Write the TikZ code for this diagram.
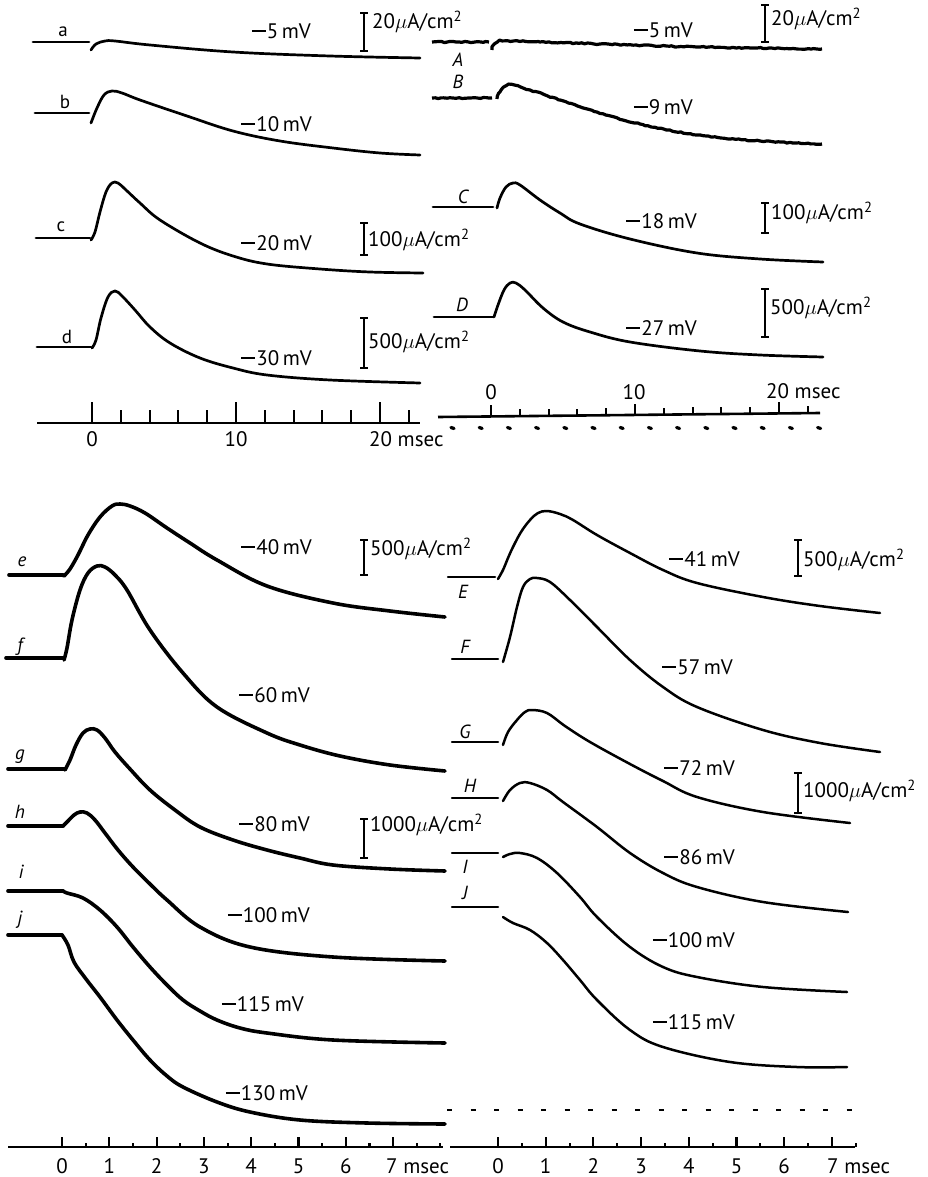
\documentclass[tikz,border=0pt]{standalone}
\usepackage{fontspec}
\setmainfont{PT Sans}
\usetikzlibrary{decorations.pathmorphing}
\newcommand{\calbar}[3]{\draw[bar] (#1,#2) -- (#1,#3) (#1-4,#2) -- (#1+4,#2) (#1-4,#3) -- (#1+4,#3);}
\newcommand{\uAcm}[1]{#1$\mu$A/cm\textsuperscript{2}}
\newcommand{\mn}{\rule[0.3em]{0.66em}{0.1em}\kern0.06em}

\begin{document}
\begin{tikzpicture}[x=1pt,y=-1pt,font=\fontsize{21}{24}\selectfont,
	trace/.style={line width=2.7pt,line cap=round,line join=round},
	bold/.style={line width=3.6pt,line cap=round,line join=round},
	thin/.style={line width=2.5pt,line cap=round,line join=round},
	noisy/.style={line width=3.2pt,line join=round,decorate,decoration={random steps,segment length=3pt,amplitude=.6pt}},
	bar/.style={line width=2.1pt},
	axis/.style={line width=2.6pt},
	lbl/.style={font=\fontsize{19}{20}\selectfont,inner sep=0pt},
	ilbl/.style={font=\fontsize{19}{20}\selectfont\itshape,inner sep=0pt},
	num/.style={inner sep=0pt},
	mv/.style={anchor=east,inner sep=0pt},
	ua/.style={anchor=west,inner sep=0pt}]
	\useasboundingbox (0,0) rectangle (927,1177);
	%	\draw[thin,densely dashed] (0,0) grid[step=100] (927,1177);
	
	% top left, a to d
	\draw[trace] (33,42) -- (89,42);
	\draw[trace] plot[smooth,tension=.6] coordinates {(91,50) (96,44) (105,41) (115,41) (150,45) (233,52) (330,56) (420,58)};
	\draw[trace] (35,113) -- (89,113);
	\draw[trace] plot[smooth,tension=.6] coordinates {(91,123) (97,108) (104,95) (112,91) (122,93) (140,100) (187,116) (233,131) (280,141) (333,148) (380,153) (420,155)};
	\draw[trace] (36,238) -- (90,238);
	\draw[trace] plot[smooth,tension=.6] coordinates {(91,240) (95,232) (100,212) (106,192) (112,183) (118,183) (126,190) (140,203) (160,220) (200,243) (233,256) (267,264) (320,269) (370,272) (423,273)};
	\draw[trace] (37,347) -- (91,347);
	\draw[trace] plot[smooth,tension=.6] coordinates {(92,348) (96,340) (101,318) (108,297) (115,291) (122,296) (135,310) (150,327) (170,343) (200,358) (233,368) (267,375) (330,380) (420,383)};
	\node[lbl] (la) at (63,32) {a};
	\node[lbl] (lb) at (65,102) {b};
	\node[lbl] (lc) at (61,227) {c};
	\node[lbl] (ld) at (67,337) {d};
	\node[mv] (va) at (311,31) {\mn5\,mV};
	\node[mv] (vb) at (312,124) {\mn10\,mV};
	\node[mv] (vc) at (312,243) {\mn20\,mV};
	\node[mv] (vd) at (312,358) {\mn30\,mV};
	\calbar{364}{13}{51}
	\calbar{364}{223}{255}
	\calbar{364}{318}{368}
	\node[ua] (ua) at (372,22) {\uAcm{20}};
	\node[ua] (uc) at (368,240) {\uAcm{100}};
	\node[ua] (ud) at (368,342) {\uAcm{500}};
	\draw[axis] (37,423) -- (420,423);
	\foreach \t in {0,2,...,22}
		\draw[bar] ({92+14.4*\t},423) -- ++(0,-13);
	\foreach \t in {0,10,20}
		\draw[bar] ({92+14.4*\t},423) -- ++(0,-21);
	\node[num] (t0) at (92,439) {0};
	\node[num] (t10) at (236,439) {10};
	\node[num,anchor=west] (t20) at (369,439) {20 msec};
	
	% top right, A to D
	\draw[noisy] (432,42) -- (489,42);
	\draw[noisy] plot[smooth,tension=.6] coordinates {(492,50) (495,44) (502,41) (540,42) (600,44) (700,47) (822,49)};
	\draw[noisy] (432,98) -- (492,98);
	\draw[noisy] plot[smooth,tension=.6] coordinates {(497,99) (500,92) (506,86) (512,85) (530,90) (560,100) (597,112) (640,124) (697,135) (760,141) (822,144)};
	\draw[trace] (433,207) -- (493,207);
	\draw[trace] plot[smooth,tension=.6] coordinates {(497,208) (500,198) (506,187) (513,183) (520,185) (540,200) (560,213) (580,224) (630,239) (697,253) (760,259) (823,262)};
	\draw[trace] (434,317) -- (493,317);
	\draw[trace] plot[smooth,tension=.6] coordinates {(494,317) (498,305) (504,290) (510,283) (516,283) (525,290) (543,308) (563,322) (590,332) (630,342) (700,351) (760,355) (823,357)};
	\node[ilbl] (lA) at (458,60) {A};
	\node[ilbl] (lB) at (458,82) {B};
	\node[ilbl] (lC) at (463,197) {C};
	\node[ilbl] (lD) at (462,305) {D};
	\node[mv] (vA) at (693,30) {\mn5\,mV};
	\node[mv] (vB) at (693,107) {\mn9\,mV};
	\node[mv] (vC) at (697,221) {\mn18\,mV};
	\node[mv] (vD) at (697,328) {\mn27\,mV};
	\calbar{765}{5}{42}
	\calbar{765}{203}{233}
	\calbar{765}{289}{337}
	\node[ua] (uA) at (771,19) {\uAcm{20}};
	\node[ua] (uC) at (771,213) {\uAcm{100}};
	\node[ua] (uD) at (770,308) {\uAcm{500}};
	\draw[axis] (438,417) -- (820,413);
	\foreach \t in {0,2,...,22}
		\draw[bar] ({491+14.4*\t},{417-4*(53+14.4*\t)/382}) -- ++(0,-7);
	\foreach \t in {0,10,20}
		\draw[bar] ({491+14.4*\t},{417-4*(53+14.4*\t)/382}) -- ++(0,-11);
	\foreach \i in {0,...,13}
		\draw[line width=3.2pt,line cap=round] ({451+28.2*\i},427.5) -- ++(3,1);
	\node[num] (T0) at (491,392) {0};
	\node[num] (T10) at (634,392) {10};
	\node[num,anchor=west] (T20) at (766,391) {20 msec};
	
	% bottom left, e to j
	\draw[bold] (9,575) -- (63,575);
	\draw[bold] plot[smooth,tension=.6] coordinates {(64,576) (70,569) (78,555) (88,535) (100,517) (112,506) (120,504) (130,506) (145,513) (167,528) (190,543) (217,560) (267,586) (333,603) (390,611) (445,617)};
	\draw[bold] (6,658) -- (63,658);
	\draw[bold] plot[smooth,tension=.6] coordinates {(64,660) (67,648) (72,620) (80,590) (88,573) (97,566) (105,567) (115,575) (127,590) (150,630) (183,673) (217,707) (267,733) (300,745) (340,756) (390,765) (445,771)};
	\draw[bold] (8,769) -- (65,769);
	\draw[bold] plot[smooth,tension=.6] coordinates {(65,770) (70,760) (76,745) (83,733) (90,729) (97,730) (105,738) (115,752) (130,769) (150,790) (175,810) (200,827) (233,840) (267,850) (300,858) (333,865) (390,869) (445,871)};
	\draw[bold] (8,826) -- (63,826);
	\draw[bold] plot[smooth,tension=.6] coordinates {(63,826) (68,821) (74,815) (80,812) (87,813) (95,820) (105,833) (118,850) (133,867) (150,884) (167,900) (200,927) (250,947) (333,957) (445,961)};
	\draw[bold] (8,891) -- (63,891);
	\draw[bold] plot[smooth,tension=.6] coordinates {(63,891) (67,893) (83,898) (100,910) (117,927) (133,947) (150,967) (167,985) (183,1000) (200,1011) (217,1020) (240,1028) (267,1033) (333,1040) (445,1043)};
	\draw[bold] (8,935) -- (62,935);
	\draw[bold] plot[smooth,tension=.6] coordinates {(62,935) (68,945) (74,962) (86,979) (100,997) (117,1020) (133,1040) (150,1060) (167,1076) (183,1087) (217,1102) (250,1112) (300,1120) (367,1123) (445,1124)};
	\node[ilbl] (le) at (22,562) {e};
	\node[ilbl] (lf) at (20,647) {f};
	\node[ilbl] (lg) at (20,757) {g};
	\node[ilbl] (lh) at (20,812) {h};
	\node[ilbl] (li) at (21,872) {i};
	\node[ilbl] (lj) at (20,920) {j};
	\node[mv] (ve) at (312,547) {\mn40\,mV};
	\node[mv] (vf) at (310,695) {\mn60\,mV};
	\node[mv] (vg) at (310,824) {\mn80\,mV};
	\node[mv] (vh) at (310,915) {\mn100\,mV};
	\node[mv] (vi) at (304,1004) {\mn115\,mV};
	\node[mv] (vj) at (308,1093) {\mn130\,mV};
	\calbar{364}{540}{575}
	\calbar{364}{819}{858}
	\node[ua] (ue) at (370,549) {\uAcm{500}};
	\node[ua] (ug) at (370,825) {\uAcm{1000}};
	\draw[axis] (8,1147) -- (443,1147);
	\foreach \t in {0,0.5,...,8}
		\draw[bar] ({62+47.3*\t},1147) -- ++(0,-4);
	\foreach \t in {0,...,7}
		\draw[bar] ({62+47.3*\t},1147) -- ++(0,-10);
	\foreach \t in {0,...,6}
		\node[num] (x\t) at ({62+47.3*\t},1166) {\t};
	\node[num,anchor=west] (x7) at (386,1166) {7 msec};
	
	% bottom right, E to J
	\draw[thin] (448,577) -- (495,577);
	\draw[thin] plot[smooth,tension=.6] coordinates {(498,579) (503,570) (508,558) (513,547) (521,532) (530,520) (538,513) (547,511) (560,514) (573,520) (597,535) (630,553) (663,570) (697,583) (763,597) (820,606) (880,613)};
	\draw[thin] (452,659) -- (498,659);
	\draw[thin] plot[smooth,tension=.6] coordinates {(503,662) (510,637) (517,607) (523,587) (530,579) (537,578) (550,582) (570,600) (597,627) (630,660) (663,687) (697,707) (763,730) (820,743) (880,752)};
	\draw[thin] (452,742) -- (498,742);
	\draw[thin] plot[smooth,tension=.6] coordinates {(503,745) (508,732) (517,720) (525,712) (532,710) (547,713) (565,726) (590,742) (630,764) (663,781) (697,797) (763,812) (850,823)};
	\draw[thin] (452,798) -- (498,798);
	\draw[thin] plot[smooth,tension=.6] coordinates {(503,801) (510,790) (520,783) (530,783) (547,790) (563,802) (597,827) (630,853) (663,873) (697,887) (763,902) (848,912)};
	\draw[thin] (452,853) -- (498,853);
	\draw[thin] plot[smooth,tension=.6] coordinates {(503,857) (510,854) (520,853) (537,858) (557,873) (580,897) (597,917) (630,947) (663,967) (697,977) (763,987) (847,992)};
	\draw[thin] (452,907) -- (498,907);
	\draw[thin] plot[smooth,tension=.6] coordinates {(503,917) (513,923) (530,930) (547,943) (563,960) (580,980) (597,1000) (630,1030) (663,1047) (730,1062) (797,1067) (847,1067)};
	\node[ilbl] (lE) at (463,592) {E};
	\node[ilbl] (lF) at (465,647) {F};
	\node[ilbl] (lG) at (465,732) {G};
	\node[ilbl] (lH) at (470,786) {H};
	\node[ilbl] (lI) at (465,867) {I};
	\node[ilbl] (lJ) at (465,893) {J};
	\node[mv] (vE) at (740,559) {\mn41\,mV};
	\node[mv] (vF) at (733,667) {\mn57\,mV};
	\node[mv] (vG) at (735,768) {\mn72\,mV};
	\node[mv] (vH) at (735,857) {\mn86\,mV};
	\node[mv] (vI) at (735,940) {\mn100\,mV};
	\node[mv] (vJ) at (735,1022) {\mn115\,mV};
	\calbar{798}{540}{576}
	\calbar{798}{773}{813}
	\node[ua] (uE) at (803,560) {\uAcm{500}};
	\node[ua] (uG) at (803,791) {\uAcm{1000}};
	\foreach \i in {0,...,17}
		\draw[axis] ({447+23.5*\i},1110) -- ++(5,0);
	\draw[axis] (450,1147) -- (855,1147);
	\foreach \t in {0,0.5,...,7.5}
		\draw[bar] ({498+47.7*\t},1147) -- ++(0,-4);
	\foreach \t in {0,...,7}
		\draw[bar] ({498+47.7*\t},1147) -- ++(0,-10);
	\foreach \t in {0,...,6}
		\node[num] (X\t) at ({498+47.7*\t},1166) {\t};
	\node[num,anchor=west] (X7) at (827,1166) {7 msec};
	
\end{tikzpicture}
\end{document}
